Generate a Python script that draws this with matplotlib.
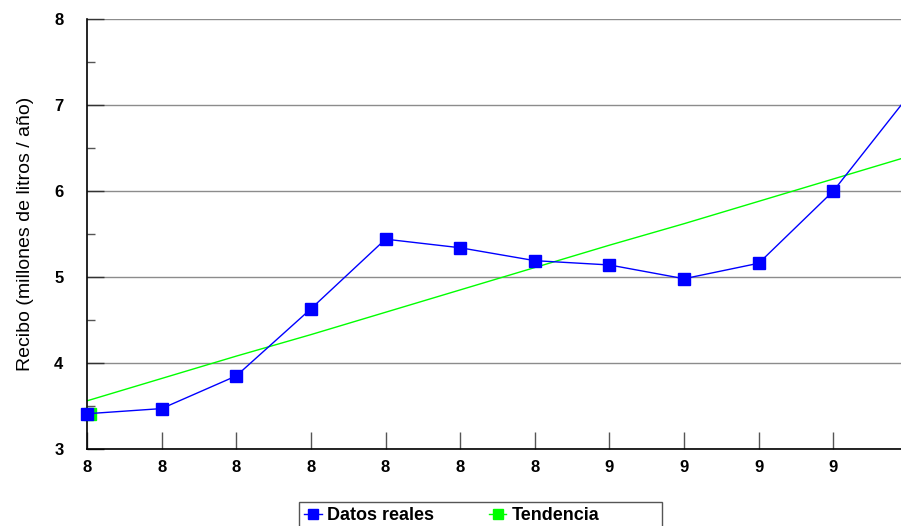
import matplotlib
matplotlib.use("Agg")
import matplotlib.pyplot as plt
from matplotlib.patches import Rectangle
from matplotlib.ticker import MultipleLocator
from matplotlib.transforms import ScaledTranslation

plt.rcParams["font.family"] = ["Liberation Sans", "DejaVu Sans"]

# ── Data ──────────────────────────────────────────────────────────────────────
x_labels   = ["8", "8", "8", "8", "8", "8", "8", "9", "9", "9", "9", "9"]
datos      = [3.41, 3.47, 3.85, 4.63, 5.44, 5.34, 5.19, 5.14, 4.98, 5.16, 6.00, 7.10]
tendencia  = [3.56, 3.82, 4.08, 4.33, 4.59, 4.85, 5.11, 5.37, 5.62, 5.88, 6.14, 6.40]

BLUE  = "#0000FF"
GREEN = "#00FF00"

W, H = 901, 526
fig = plt.figure(figsize=(W / 100, H / 100), dpi=100)
ax = fig.add_axes([87 / W, (H - 449) / H, (908 - 87) / W, 430 / H])

x = list(range(len(x_labels)))
ax.plot(x, tendencia, color=GREEN, lw=1.0, zorder=2)
# small green marker peeking out behind the first data point
shift = ax.transData + ScaledTranslation(3 / 100, 0, fig.dpi_scale_trans)
ax.plot([x[0]], [datos[0]], ls="none", marker="s", ms=8, color=GREEN,
        transform=shift, zorder=2, clip_on=False)
ax.plot(x, datos, color=BLUE, lw=1.0, marker="s", ms=8, mec=BLUE,
        zorder=3, clip_on=False)

ax.set_xlim(0, len(x_labels) - 1)
ax.set_ylim(3, 8)
ax.set_xticks(x)
ax.set_xticklabels(x_labels, fontsize=12, fontweight="bold")
ax.yaxis.set_major_locator(MultipleLocator(1))
ax.yaxis.set_minor_locator(MultipleLocator(0.5))
for lab in ax.get_yticklabels():
    lab.set_fontweight("bold")
    lab.set_fontsize(12)
left_shift = ScaledTranslation(-5 / 100, 0, fig.dpi_scale_trans)
for lab in ax.get_xticklabels():
    lab.set_transform(lab.get_transform() + left_shift)

ax.tick_params(axis="x", direction="in", length=12, width=1, color="#555555", pad=8)
ax.tick_params(axis="y", which="major", direction="in", length=12, width=1,
               color="#333333", pad=17)
ax.tick_params(axis="y", which="minor", direction="in", length=6, width=1,
               color="#555555")

ax.grid(axis="y", which="major", color="#8c8c8c", lw=1)
ax.set_axisbelow(True)
for side in ("top", "right"):
    ax.spines[side].set_visible(False)
for side in ("left", "bottom"):
    ax.spines[side].set_color("black")
    ax.spines[side].set_linewidth(1.2)

ax.set_ylabel("Recibo (millones de litros / año)", fontsize=14)
ax.yaxis.set_label_coords(-53 / (908 - 87), 0.5)

# legend: entries without frame, plus a wide box drawn by hand
leg_handles = [plt.Line2D([], [], color=BLUE, marker="s", ms=7, lw=1),
               plt.Line2D([], [], color=GREEN, marker="s", ms=7, lw=1)]
leg = fig.legend(leg_handles, ["Datos reales", "Tendencia"], ncol=2,
                 loc="upper left", bbox_to_anchor=(299 / W, 1 - 502 / H),
                 frameon=False, prop={"weight": "bold", "size": 13},
                 handlelength=0.95, handletextpad=0.3, columnspacing=3.05,
                 borderpad=0.3, borderaxespad=0)
fig.add_artist(Rectangle((299 / W, -0.01), (662 - 299) / W, (526 - 502) / H + 0.01,
                         transform=fig.transFigure, fill=False,
                         edgecolor="#555555", lw=1))

fig.savefig("out.png", dpi=100)
